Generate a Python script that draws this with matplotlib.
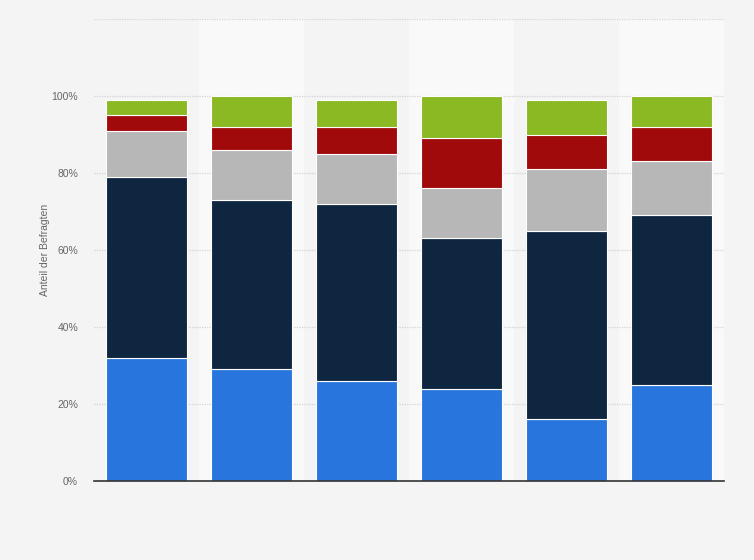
import numpy as np
import matplotlib.pyplot as plt

plt.rcParams["font.family"] = ["Liberation Sans", "DejaVu Sans"]

# Werte (Anteil der Befragten in %)
gruppen = ["1", "2", "3", "4", "5", "6"]
blau = [32, 29, 26, 24, 16, 25]
dunkelblau = [47, 44, 46, 39, 49, 44]
grau = [12, 13, 13, 13, 16, 14]
rot = [4, 6, 7, 13, 9, 9]
gruen = [4, 8, 7, 11, 9, 8]

serien = [blau, dunkelblau, grau, rot, gruen]
farben = ["#2876dd", "#0f2640", "#b7b7b7", "#a10a0a", "#8ab923"]

y_ticks = [0, 20, 40, 60, 80, 100]

fig = plt.figure(figsize=(7.54, 5.6), dpi=100)
fig.patch.set_facecolor("#f4f4f4")
ax = fig.add_axes([94 / 754, 79 / 560, 630 / 754, 462 / 560])
ax.set_facecolor("#f4f4f4")

x = np.arange(len(gruppen))

# abwechselnde Spaltenschattierung
for i in x:
    if i % 2 == 1:
        ax.axvspan(i - 0.5, i + 0.5, color="#f9f9f9", zorder=0, lw=0)

# Gitterlinien
for t in y_ticks[1:] + [120]:
    ax.axhline(t, color="#d4d4d4", lw=0.9, ls=(0, (1, 1)), zorder=1)

unten = np.zeros(len(gruppen))
for werte, farbe in zip(serien, farben):
    ax.bar(x, werte, bottom=unten, width=0.77, color=farbe,
           edgecolor="white", linewidth=0.8, zorder=3)
    unten += np.array(werte)

ax.set_xlim(-0.5, len(gruppen) - 0.5)
ax.set_ylim(0, 120)
ax.set_xticks([])
ax.set_yticks(y_ticks)
ax.set_yticklabels([f"{t}%" for t in y_ticks])
ax.tick_params(axis="y", length=0, labelsize=7.5, labelcolor="#666666", pad=11.5)

for s in ["top", "right", "left"]:
    ax.spines[s].set_visible(False)
ax.spines["bottom"].set_color("#333333")
ax.spines["bottom"].set_linewidth(1.2)
ax.spines["bottom"].set_zorder(4)

ax.set_ylabel("Anteil der Befragten", fontsize=7.5, color="#666666", labelpad=1)

fig.savefig("out.png", dpi=100, facecolor=fig.get_facecolor())
